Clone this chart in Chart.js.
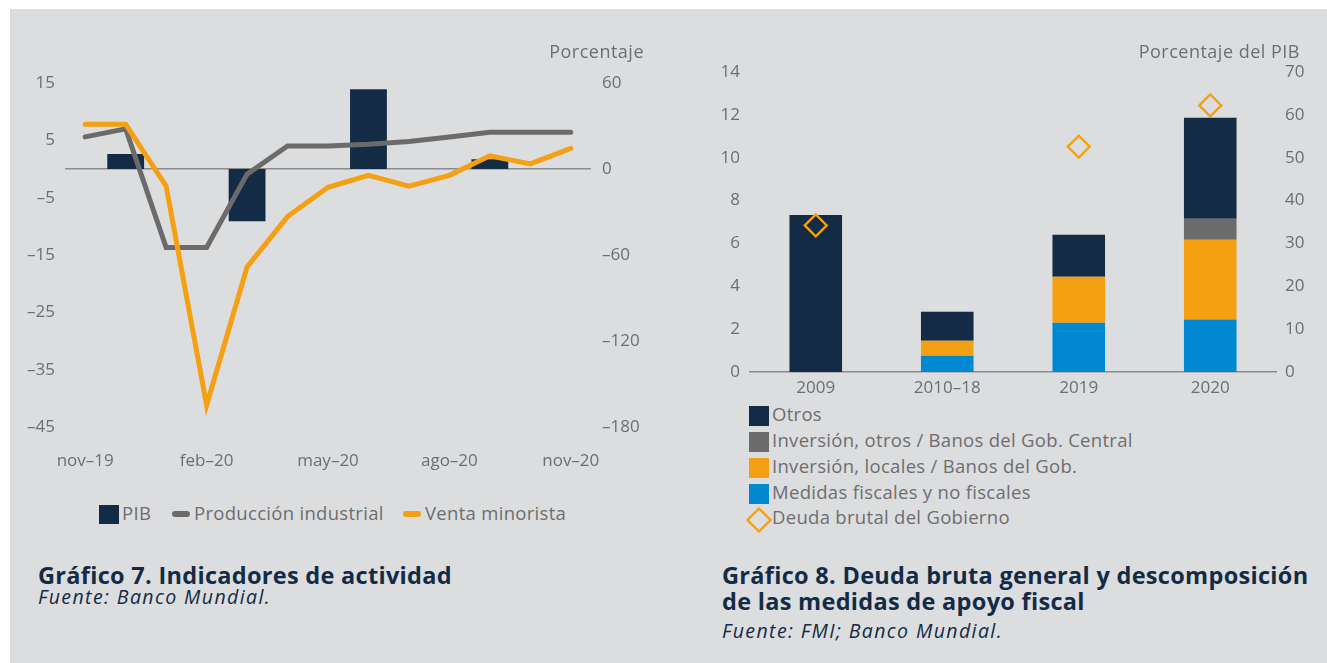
<!DOCTYPE html>
<html><head><meta charset="utf-8">
<script src="https://cdn.jsdelivr.net/npm/chart.js@4.4.1/dist/chart.umd.min.js"></script>
<style>
body{margin:0;background:#fff;width:1327px;height:663px;overflow:hidden;font-family:"Open Sans",sans-serif;position:relative;}
#bg{position:absolute;left:10px;top:9px;right:0;bottom:0;background:#dcdddf;}
.abs{position:absolute;white-space:nowrap;line-height:1;}
.axt{color:#6d6e70;font-size:18px;letter-spacing:0.5px;}
.lg{color:#6d6e70;font-size:18.5px;letter-spacing:0.3px;}
.ttl{color:#132b45;font-size:23.5px;font-weight:700;letter-spacing:0.3px;}
.src{color:#132b45;font-size:19.5px;font-style:italic;letter-spacing:1.4px;}
canvas{position:absolute;}
.sw{position:absolute;width:20px;height:20px;}
.ln{position:absolute;width:18px;height:6px;border-radius:3px;}
</style></head>
<body>
<div id="bg"></div>
<canvas id="c1" width="660" height="480" style="left:0;top:0"></canvas>
<canvas id="c2" width="667" height="400" style="left:660px;top:0"></canvas>

<div class="abs axt" style="right:683px;top:42px">Porcentaje</div>
<div class="abs axt" style="right:27px;top:42px">Porcentaje del PIB</div>

<!-- legend chart 1 -->
<div class="sw" style="left:99px;top:505px;background:#132b45;height:19px"></div>
<div class="abs lg" style="left:122px;top:504px">PIB</div>
<div class="ln" style="left:172px;top:511px;background:#6b6b6b"></div>
<div class="abs lg" style="left:194px;top:504px">Producción industrial</div>
<div class="ln" style="left:403px;top:511px;background:#f4a012"></div>
<div class="abs lg" style="left:425px;top:504px">Venta minorista</div>

<!-- legend chart 2 -->
<div class="sw" style="left:749px;top:406px;background:#132b45"></div>
<div class="abs lg" style="left:772px;top:405px">Otros</div>
<div class="sw" style="left:749px;top:432px;background:#6b6b6b"></div>
<div class="abs lg" style="left:772px;top:431px">Inversión, otros / Banos del Gob. Central</div>
<div class="sw" style="left:749px;top:458px;background:#f4a012"></div>
<div class="abs lg" style="left:772px;top:457px">Inversión, locales / Banos del Gob.</div>
<div class="sw" style="left:749px;top:484px;background:#0089d1"></div>
<div class="abs lg" style="left:772px;top:483px">Medidas fiscales y no fiscales</div>
<svg style="position:absolute;left:746px;top:507px" width="26" height="26"><polygon points="13,1.5 24.5,13 13,24.5 1.5,13" fill="none" stroke="#f4a012" stroke-width="2.3"/></svg>
<div class="abs lg" style="left:772px;top:508px">Deuda brutal del Gobierno</div>

<div class="abs ttl" style="left:38px;top:564px">Gráfico 7. Indicadores de actividad</div>
<div class="abs src" style="left:38px;top:587px">Fuente: Banco Mundial.</div>

<div class="abs ttl" style="left:722px;top:564px">Gráfico 8. Deuda bruta general y descomposición</div>
<div class="abs ttl" style="left:722px;top:590px">de las medidas de apoyo fiscal</div>
<div class="abs src" style="left:722px;top:621px">Fuente: FMI; Banco Mundial.</div>

<script>
// ---- Chart 7 data ----
const months = ['nov-19','dic-19','ene-20','feb-20','mar-20','abr-20','may-20','jun-20','jul-20','ago-20','sep-20','oct-20','nov-20'];
const pib = [null, 2.6, null, null, -9.1, null, null, 13.9, null, null, 1.7, null, null];
const produccionIndustrial = [5.6, 7.0, -13.7, -13.7, -0.9, 4.0, 4.0, 4.3, 4.8, 5.6, 6.4, 6.4, 6.4];
const ventaMinorista = [7.8, 7.8, -3.0, -41.2, -17.1, -8.3, -3.2, -1.1, -3.0, -1.1, 2.3, 0.9, 3.6];
const leftTicks1 = {min: -45, max: 15, step: 10};
const rightTicks1 = {min: -180, max: 60, step: 60};

// ---- Chart 8 data ----
const periods = ['2009', '2010-18', '2019', '2020'];
const medidas = [null, 0.76, 2.30, 2.45];
const invLocales = [null, 0.70, 2.14, 3.72];
const invCentral = [null, null, null, 0.98];
const otros = [7.33, 1.35, 1.96, 4.71];
const deudaBruta = [34.2, null, 52.6, 62.2];
const leftTicks2 = {min: 0, max: 14, step: 2};
const rightTicks2 = {min: 0, max: 70, step: 10};

const NAVY = '#132b45', GRAY = '#6b6b6b', ORANGE = '#f4a012', BLUE = '#0089d1', TICK = '#6d6e70';
const tickFont = {family: 'Open Sans', size: 17};
const dash = v => String(v).replace('-', '\u2013');

new Chart(document.getElementById('c1'), {
  type: 'bar',
  data: {
    labels: months,
    datasets: [
      {label: 'Venta minorista', type: 'line', data: ventaMinorista, borderColor: ORANGE, borderWidth: 5, pointRadius: 0, tension: 0, borderCapStyle: 'round', order: 1, yAxisID: 'y'},
      {label: 'Producción industrial', type: 'line', data: produccionIndustrial, borderColor: GRAY, borderWidth: 5, pointRadius: 0, tension: 0, borderCapStyle: 'round', order: 2, yAxisID: 'y'},
      {label: 'PIB', data: pib, backgroundColor: NAVY, barPercentage: 0.91, categoryPercentage: 1, order: 3, yAxisID: 'y'}
    ]
  },
  options: {
    responsive: false, animation: false,
    layout: {padding: {top: 83, left: 0, right: 0, bottom: 0}},
    plugins: {legend: {display: false}, tooltip: {enabled: false}},
    scales: {
      x: {offset: true, grid: {display: false, drawTicks: false}, border: {display: false},
          ticks: {autoSkip: false, maxRotation: 0, padding: 24, color: TICK, font: tickFont,
                  callback: (v, i) => i % 3 === 0 ? dash(months[i]) : ''},
          afterFit: s => { s.height = 53; }},
      y: {position: 'left', min: leftTicks1.min, max: leftTicks1.max,
          ticks: {stepSize: leftTicks1.step, padding: 10, color: TICK, font: tickFont, callback: dash},
          grid: {display: false, drawTicks: false}, border: {display: false},
          afterFit: s => { s.width = 65; }},
      y1: {position: 'right', min: rightTicks1.min, max: rightTicks1.max,
          ticks: {stepSize: rightTicks1.step, padding: 11, color: TICK, font: tickFont, callback: dash},
          grid: {drawOnChartArea: true, drawTicks: false, lineWidth: 1.5,
                 color: c => c.tick && c.tick.value === 0 ? '#8a8b8d' : 'rgba(0,0,0,0)'},
          border: {display: false},
          afterFit: s => { s.width = 69; }}
    }
  }
});

new Chart(document.getElementById('c2'), {
  type: 'bar',
  data: {
    labels: periods,
    datasets: [
      {label: 'Deuda brutal del Gobierno', type: 'line', data: deudaBruta, yAxisID: 'y1', showLine: false,
       pointStyle: 'rectRot', pointRadius: 11, pointBorderWidth: 2.3, pointBackgroundColor: 'rgba(0,0,0,0)',
       pointBorderColor: ORANGE, borderColor: ORANGE, order: 0},
      {label: 'Medidas fiscales y no fiscales', data: medidas, backgroundColor: BLUE, stack: 's', order: 1},
      {label: 'Inversión, locales / Banos del Gob.', data: invLocales, backgroundColor: ORANGE, stack: 's', order: 1},
      {label: 'Inversión, otros / Banos del Gob. Central', data: invCentral, backgroundColor: GRAY, stack: 's', order: 1},
      {label: 'Otros', data: otros, backgroundColor: NAVY, stack: 's', order: 1}
    ]
  },
  options: {
    responsive: false, animation: false,
    layout: {padding: {top: 72, left: 0, right: 0, bottom: 0}},
    datasets: {bar: {barPercentage: 0.4, categoryPercentage: 1}},
    plugins: {legend: {display: false}, tooltip: {enabled: false}},
    scales: {
      x: {stacked: true, offset: true, grid: {display: false, drawTicks: false},
          border: {display: true, color: '#8a8b8d', width: 1.5},
          ticks: {padding: 6, color: TICK, font: tickFont, maxRotation: 0, autoSkip: false, callback: (v, i) => dash(periods[i])},
          afterFit: s => { s.height = 28; }},
      y: {stacked: true, position: 'left', min: leftTicks2.min, max: leftTicks2.max,
          ticks: {stepSize: leftTicks2.step, padding: 10, color: TICK, font: tickFont},
          grid: {display: false, drawTicks: false}, border: {display: false},
          afterFit: s => { s.width = 90; }},
      y1: {position: 'right', min: rightTicks2.min, max: rightTicks2.max,
          ticks: {stepSize: rightTicks2.step, padding: 9, color: TICK, font: tickFont},
          grid: {display: false, drawTicks: false}, border: {display: false},
          afterFit: s => { s.width = 51; }}
    }
  }
});
</script>
</body></html>
